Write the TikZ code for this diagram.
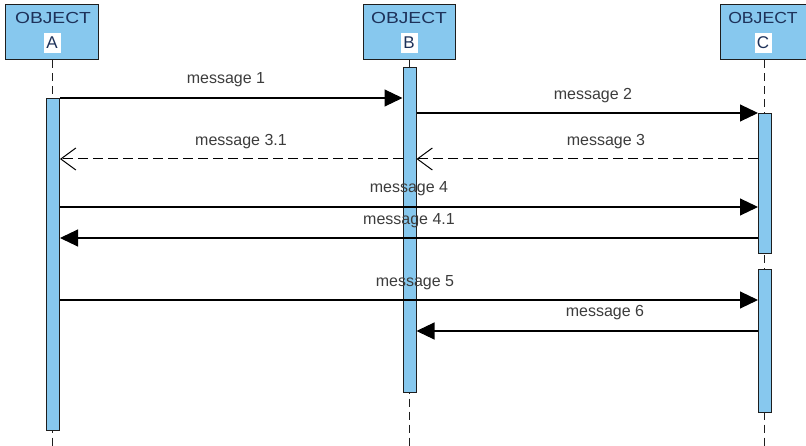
\documentclass[tikz,border=0pt]{standalone}
\usepackage{fontspec}
\usepackage{graphicx}
\setmainfont{Liberation Sans}
\usetikzlibrary{arrows.meta}
\definecolor{actfill}{RGB}{135,200,238}
\definecolor{objtext}{RGB}{30,50,90}
\definecolor{msgtext}{RGB}{60,60,60}
\definecolor{edge}{RGB}{30,30,30}
\begin{document}
\begin{tikzpicture}[x=1pt,y=-1pt,
  objbox/.style={draw=edge, line width=1pt, fill=actfill, minimum height=55pt, inner sep=0pt},
  objname/.style={font=\fontsize{16}{18}\selectfont, text=objtext, inner sep=0pt},
  objletter/.style={font=\fontsize{17}{19}\selectfont, text=objtext, fill=white, minimum width=17pt, minimum height=20pt, inner sep=0pt},
  lifeline/.style={draw=edge, line width=1pt, dash pattern=on 8pt off 5pt},
  actbar/.style={draw=edge, line width=1pt, fill=actfill, inner sep=0pt, minimum width=13pt},
  call/.style={draw=black, line width=1.1pt, -{Triangle[length=18pt,width=17pt]}},
  reply/.style={draw=black, line width=1pt, dash pattern=on 10pt off 5pt, -{Straight Barb[length=15pt,width=22pt,line width=1pt]}},
  msg/.style={font=\fontsize{16}{18}\selectfont, text=msgtext, inner sep=0pt}
]
\useasboundingbox (0,0) rectangle (806,446);

% objects
\node[objbox, minimum width=93pt] (objA) at (52,32.5) {};
\node[objbox, minimum width=92pt] (objB) at (409,32.5) {};
\node[objbox, minimum width=86pt] (objC) at (763,32.5) {};
\node[objname] (nameA) at (53,18) {\scalebox{1.2}[1]{OBJECT}};
\node[objname] (nameB) at (409,18) {\scalebox{1.2}[1]{OBJECT}};
\node[objname] (nameC) at (763,18) {\scalebox{1.1}[1]{OBJECT}};
\node[objletter] (letA) at (52,43) {A};
\node[objletter] (letB) at (409,43) {B};
\node[objletter] (letC) at (763,43) {C};

% lifelines
\coordinate (endA) at (52,446);
\coordinate (endB) at (409,446);
\coordinate (endC) at (764,446);
\draw[lifeline] (objA.south) -- (endA);
\draw[lifeline] (objB.south) -- (endB);
\draw[lifeline] (objC.south -| endC) -- (endC);

% activations
\node[actbar, minimum height=332pt, anchor=north] (actA) at (53,98) {};
\node[actbar, minimum height=325pt, anchor=north] (actB) at (409.5,67) {};
\node[actbar, minimum height=140pt, anchor=north] (actC1) at (765,113) {};
\node[actbar, minimum height=143pt, anchor=north] (actC2) at (765,269) {};

% message end points
\coordinate (m1s) at (actA.east |- 0,98);
\coordinate (m1e) at (actB.west |- 0,98);
\coordinate (m2s) at (actB.east |- 0,113);
\coordinate (m2e) at (actC1.west |- 0,113);
\coordinate (m3s) at (actC1.west |- 0,159);
\coordinate (m3e) at (actB.east |- 0,159);
\coordinate (m31s) at (actB.west |- 0,159);
\coordinate (m31e) at (actA.east |- 0,159);
\coordinate (m4s) at (actA.east |- 0,207);
\coordinate (m4e) at (actC1.west |- 0,207);
\coordinate (m41s) at (actC1.west |- 0,238);
\coordinate (m41e) at (actA.east |- 0,238);
\coordinate (m5s) at (actA.east |- 0,300);
\coordinate (m5e) at (actC2.west |- 0,300);
\coordinate (m6s) at (actC2.west |- 0,331);
\coordinate (m6e) at (actB.east |- 0,331);

% messages
\draw[call] (m1s) -- (m1e);
\draw[call] (m2s) -- (m2e);
\draw[reply] (m3s) -- (m3e);
\draw[reply] (m31s) -- (m31e);
\draw[call] (m4s) -- (m4e);
\draw[call] (m41s) -- (m41e);
\draw[call] (m5s) -- (m5e);
\draw[call] (m6s) -- (m6e);

% labels
\node[msg] (l1) at (226,80) {message 1};
\node[msg] (l2) at (593,96) {message 2};
\node[msg] (l31) at (241,142) {message 3.1};
\node[msg] (l3) at (606,142) {message 3};
\node[msg] (l4) at (409,189) {message 4};
\node[msg] (l41) at (409,221) {message 4.1};
\node[msg] (l5) at (415,283) {message 5};
\node[msg] (l6) at (605,313) {message 6};
\end{tikzpicture}
\end{document}
